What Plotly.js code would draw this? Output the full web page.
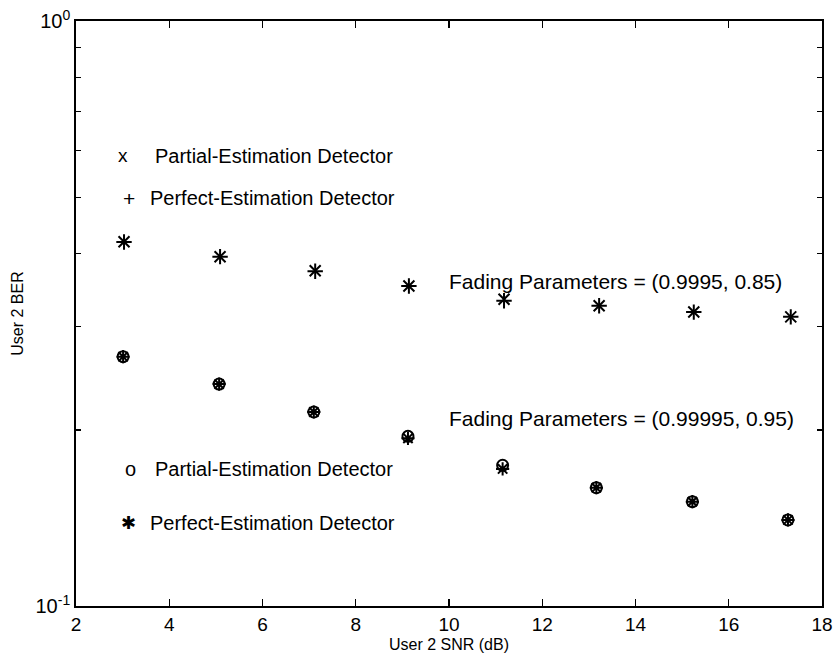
<!DOCTYPE html>
<html>
<head>
<meta charset="utf-8">
<script src="https://cdn.plot.ly/plotly-3.0.1.min.js"></script>
<style>html,body{margin:0;padding:0;background:#fff;}#chart{width:833px;height:660px;}</style>
</head>
<body>
<div id="chart"></div>
<script>
// SNR values (dB)
const snrUpper = [3.03, 5.09, 7.13, 9.14, 11.18, 13.22, 15.25, 17.33];
const snrLower = [3.01, 5.07, 7.10, 9.12, 11.15, 13.16, 15.22, 17.27];
// Fading parameters (0.9995, 0.85)
const berUpperPartial = [0.4195, 0.3955, 0.3743, 0.3524, 0.3345, 0.3261, 0.3180, 0.3121];
const berUpperPerfect = [0.4190, 0.3955, 0.3735, 0.3524, 0.3325, 0.3261, 0.3180, 0.3121];
// Fading parameters (0.99995, 0.95)
const berLowerPartial = [0.2668, 0.2395, 0.2146, 0.1950, 0.1740, 0.1593, 0.1508, 0.1403];
const berLowerPerfect = [0.2668, 0.2395, 0.2146, 0.1935, 0.1715, 0.1593, 0.1508, 0.1403];
// Tick labels
const xTickVals = [2, 4, 6, 8, 10, 12, 14, 16, 18];
const yTickVals = [0.1, 1];
const yTickText = ["10<sup>-1</sup>", "10<sup>0</sup>"];
const yMinorVals = [0.2, 0.3, 0.4, 0.5, 0.6, 0.7, 0.8, 0.9];

const mk = (sym) => ({symbol: sym, size: 11, color: "#000", line: {color: "#000", width: 2}});

const traces = [
  {x: snrUpper, y: berUpperPartial, mode: "markers", type: "scatter", name: "Partial-Estimation Detector (0.9995, 0.85)", marker: mk("x-thin-open")},
  {x: snrUpper, y: berUpperPerfect, mode: "markers", type: "scatter", name: "Perfect-Estimation Detector (0.9995, 0.85)", marker: mk("cross-thin-open")},
  {x: snrLower, y: berLowerPartial, mode: "markers", type: "scatter", name: "Partial-Estimation Detector (0.99995, 0.95)", marker: mk("circle-open")},
  {x: snrLower, y: berLowerPerfect, mode: "markers", type: "scatter", name: "Perfect-Estimation Detector (0.99995, 0.95)", marker: mk("asterisk-open")}
];

const L = 76, R = 822, T = 21, B = 606;
const px = (p) => (p - L) / (R - L);
const py = (p) => (B - p) / (B - T);
const txtFont = {family: "Liberation Sans, Arial, sans-serif", size: 20, color: "#000"};
const ann = (x, y, text, extra) => Object.assign({xref: "paper", yref: "paper", x: px(x), y: py(y), text: text, showarrow: false, xanchor: "left", yanchor: "middle", font: txtFont}, extra || {});
const fadeFont = Object.assign({}, txtFont, {size: 21});

const layout = {
  width: 833, height: 660,
  margin: {l: L, r: 833 - R, t: T, b: 660 - B},
  paper_bgcolor: "#fff", plot_bgcolor: "#fff",
  showlegend: false,
  font: {family: "Liberation Sans, Arial, sans-serif", color: "#000"},
  xaxis: {
    range: [2, 18], tickvals: xTickVals, ticks: "inside", ticklen: 7, tickwidth: 1.2, tickcolor: "#000",
    showline: true, linecolor: "#000", linewidth: 1.8, mirror: "ticks", showgrid: false, zeroline: false,
    tickfont: {size: 19, color: "#000"},
    title: {text: "User 2 SNR (dB)", font: {size: 16, color: "#000"}, standoff: 5}
  },
  yaxis: {
    type: "log", range: [-1, 0], tickvals: yTickVals, ticktext: yTickText, ticks: "inside", ticklen: 7,
    tickwidth: 1.2, tickcolor: "#000",
    showline: true, linecolor: "#000", linewidth: 1.8, mirror: "ticks", showgrid: false, zeroline: false,
    tickfont: {size: 20, color: "#000"},
    minor: {tickvals: yMinorVals, ticks: "inside", ticklen: 5, tickwidth: 1.2, tickcolor: "#000", showgrid: false},
    title: {text: "User 2 BER", font: {size: 16, color: "#000"}, standoff: 8}
  },
  annotations: [
    ann(116, 156, "x", {font: Object.assign({}, txtFont, {size: 19})}),
    ann(153, 156, "Partial-Estimation Detector"),
    ann(121, 198, "+", {font: Object.assign({}, txtFont, {size: 21})}),
    ann(148, 198, "Perfect-Estimation Detector"),
    ann(447, 281, "Fading Parameters = (0.9995, 0.85)", {font: fadeFont}),
    ann(447, 418, "Fading Parameters = (0.99995, 0.95)", {font: fadeFont}),
    ann(123, 469, "o"),
    ann(153, 469, "Partial-Estimation Detector"),
    ann(119, 522, "✱", {font: {family: "DejaVu Sans", size: 18, color: "#000"}}),
    ann(148, 523, "Perfect-Estimation Detector")
  ]
};

Plotly.newPlot("chart", traces, layout, {staticPlot: true, displayModeBar: false});
</script>
</body>
</html>
